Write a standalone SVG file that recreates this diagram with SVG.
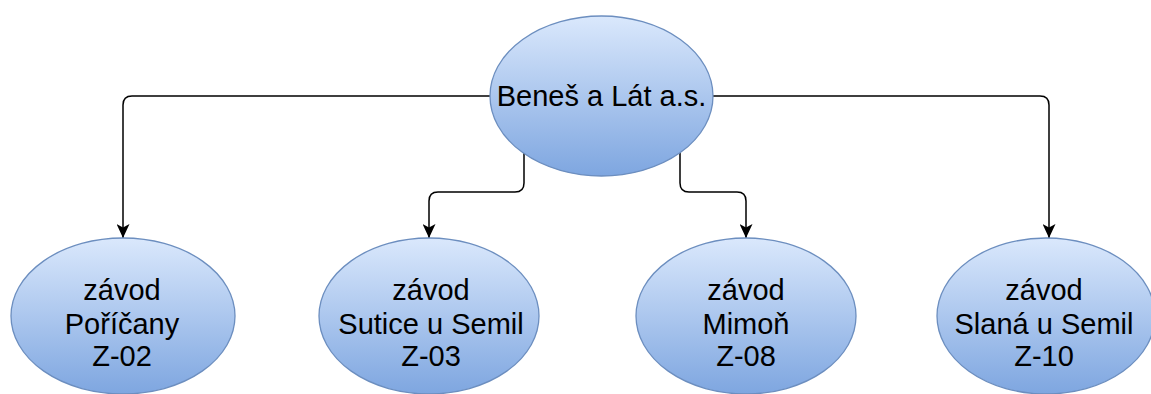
<svg xmlns="http://www.w3.org/2000/svg" width="1151" height="394" viewBox="0 0 1151 394">
<style>
.node{fill:url(#g);stroke:#6c8ebf;stroke-width:1.3}
.lbl{font-family:"Liberation Sans",Arial,sans-serif;font-size:29px;fill:#000;text-anchor:middle}
.edge{fill:none;stroke:#000;stroke-width:1.5}
</style>
<defs>
<linearGradient id="g" x1="0" y1="0" x2="0" y2="1">
<stop offset="0" stop-color="#dae8fc"/>
<stop offset="1" stop-color="#7ea6e0"/>
</linearGradient>
<marker id="ah" viewBox="0 0 14 13" refX="14" refY="6.5" markerWidth="14" markerHeight="13" markerUnits="userSpaceOnUse" orient="auto">
<path d="M0,0 L14,6.5 L0,13 L3.5,6.5 Z" fill="#000"/>
</marker>
</defs>
<g id="connectors">
<path class="edge" marker-end="url(#ah)" d="M490,96 H132 Q123,96 123,105 V238"/>
<path class="edge" marker-end="url(#ah)" d="M713,96 H1040 Q1049,96 1049,105 V238"/>
<path class="edge" marker-end="url(#ah)" d="M524,152 V183 Q524,192 515,192 H438 Q429,192 429,201 V238"/>
<path class="edge" marker-end="url(#ah)" d="M680,152 V183 Q680,192 689,192 H737 Q746,192 746,201 V238"/>
</g>
<g id="root">
<ellipse class="node" cx="601.5" cy="96" rx="111.5" ry="80"/>
<text class="lbl" x="601.5" y="106">Beneš a Lát a.s.</text>
</g>
<g id="z02">
<ellipse class="node" cx="123" cy="316" rx="112" ry="78"/>
<text class="lbl" x="122"><tspan x="122" y="300">závod</tspan><tspan x="122" y="334">Poříčany</tspan><tspan x="122" y="366">Z-02</tspan></text>
</g>
<g id="z03">
<ellipse class="node" cx="429" cy="316" rx="110" ry="78"/>
<text class="lbl" x="431"><tspan x="431" y="300">závod</tspan><tspan x="431" y="334">Sutice u Semil</tspan><tspan x="431" y="366">Z-03</tspan></text>
</g>
<g id="z08">
<ellipse class="node" cx="746" cy="316" rx="110" ry="78"/>
<text class="lbl" x="746"><tspan x="746" y="300">závod</tspan><tspan x="746" y="334">Mimoň</tspan><tspan x="746" y="366">Z-08</tspan></text>
</g>
<g id="z10">
<ellipse class="node" cx="1046" cy="316" rx="109" ry="78"/>
<text class="lbl" x="1044"><tspan x="1044" y="300">závod</tspan><tspan x="1044" y="334">Slaná u Semil</tspan><tspan x="1044" y="366">Z-10</tspan></text>
</g>
</svg>
